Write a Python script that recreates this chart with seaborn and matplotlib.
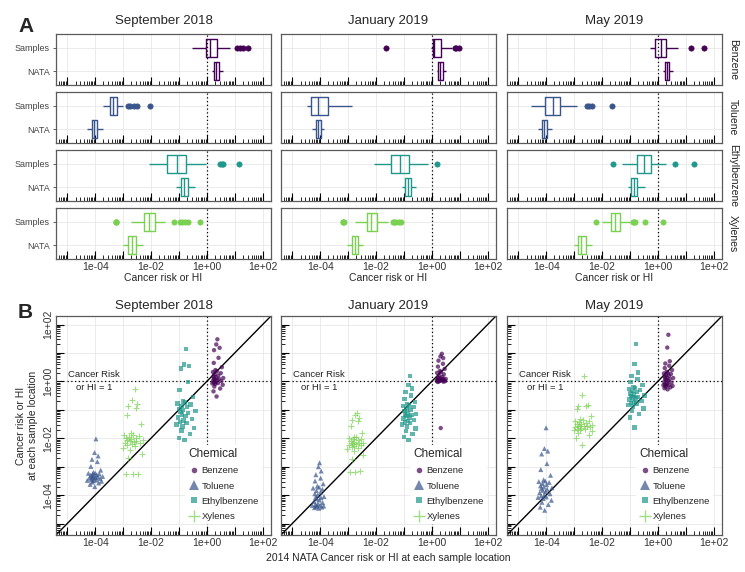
import numpy as np
import pandas as pd
import matplotlib
matplotlib.use("Agg")
import matplotlib.pyplot as plt
from matplotlib import ticker
from matplotlib.lines import Line2D
import seaborn as sns

# values are log10(cancer risk or HI)
# *_SAMPLES = measured at each sample location, *_NATA = 2014 NATA estimate at same location
SEP_BENZENE_SAMPLES = [-0.53, -0.35, -0.25, -0.18, -0.12, -0.09, -0.07, -0.06, -0.04, -0.02, 0.01, 0.03, 0.05, 0.07, 0.09, 0.10,
                       0.12, 0.15, 0.18, 0.21, 0.25, 0.29, 0.33, 0.36, 0.40, 0.50, 0.65, 0.83, 1.10, 1.18, 1.30, 1.48]
SEP_BENZENE_NATA = [0.35, 0.24, 0.48, 0.27, 0.57, 0.30, 0.20, 0.40, 0.25, 0.33, 0.52, 0.23, 0.37, 0.29, 0.44, 0.25,
                    0.59, 0.32, 0.24, 0.41, 0.28, 0.50, 0.22, 0.36, 0.31, 0.54, 0.25, 0.42, 0.26, 0.46, 0.34, 0.38]
SEP_TOLUENE_SAMPLES = [-3.70, -3.62, -3.57, -3.54, -3.51, -3.49, -3.48, -3.47, -3.45, -3.43, -3.41, -3.40, -3.38, -3.37, -3.36, -3.35,
                       -3.34, -3.32, -3.30, -3.28, -3.26, -3.25, -3.23, -3.22, -3.20, -3.12, -2.99, -2.82, -2.74, -2.62, -2.50, -2.02]
SEP_TOLUENE_NATA = [-4.01, -4.18, -3.87, -4.10, -3.77, -4.07, -4.28, -3.95, -4.13, -4.04, -3.82, -4.20, -3.98, -4.08, -3.91, -4.12,
                    -3.73, -4.05, -4.16, -3.94, -4.09, -3.85, -4.24, -4.00, -4.06, -3.80, -4.15, -3.92, -4.11, -3.89, -4.02, -3.97]
SEP_ETHYL_SAMPLES = [-2.06, -1.98, -1.85, -1.72, -1.64, -1.58, -1.52, -1.47, -1.43, -1.38, -1.32, -1.27, -1.21, -1.16, -1.11, -1.07,
                     -1.05, -1.00, -0.96, -0.91, -0.86, -0.81, -0.77, -0.74, -0.70, -0.55, -0.30, -0.02, 0.46, 0.54, 0.59, 1.15]
SEP_ETHYL_NATA = [-0.80, -1.00, -0.61, -0.91, -0.46, -0.87, -1.09, -0.72, -0.95, -0.84, -0.54, -1.02, -0.76, -0.88, -0.67, -0.94,
                  -0.41, -0.85, -0.98, -0.70, -0.90, -0.58, -1.05, -0.78, -0.86, -0.50, -0.97, -0.68, -0.93, -0.64, -0.82, -0.74]
SEP_XYLENES_SAMPLES = [-3.26, -3.25, -3.24, -2.71, -2.55, -2.42, -2.33, -2.28, -2.24, -2.21, -2.18, -2.15, -2.12, -2.10, -2.08, -2.07,
                       -2.05, -2.03, -2.00, -1.98, -1.95, -1.92, -1.89, -1.87, -1.80, -1.51, -1.19, -0.95, -0.88, -0.78, -0.66, -0.25]
SEP_XYLENES_NATA = [-2.65, -2.90, -2.46, -2.81, -2.32, -2.74, -3.00, -2.56, -2.85, -2.69, -2.40, -2.92, -2.60, -2.76, -2.52, -2.84,
                    -2.29, -2.70, -2.88, -2.55, -2.78, -2.43, -2.96, -2.63, -2.72, -2.36, -2.86, -2.53, -2.83, -2.49, -2.67, -2.58]

JAN_BENZENE_SAMPLES = [-1.64, -0.02, -0.01, 0.00, 0.01, 0.02, 0.02, 0.03, 0.04, 0.05, 0.05, 0.06, 0.07, 0.07, 0.08, 0.08,
                       0.09, 0.11, 0.13, 0.16, 0.20, 0.25, 0.30, 0.33, 0.37, 0.44, 0.52, 0.62, 0.73, 0.82, 0.88, 0.97]
JAN_BENZENE_NATA = [0.32, 0.21, 0.42, 0.25, 0.48, 0.28, 0.18, 0.37, 0.23, 0.30, 0.44, 0.20, 0.35, 0.27, 0.40, 0.24,
                    0.50, 0.30, 0.22, 0.38, 0.26, 0.43, 0.19, 0.33, 0.29, 0.46, 0.22, 0.40, 0.24, 0.41, 0.31, 0.36]
JAN_TOLUENE_SAMPLES = [-4.46, -4.44, -4.42, -4.40, -4.38, -4.37, -4.36, -4.35, -4.33, -4.30, -4.26, -4.22, -4.17, -4.13, -4.09, -4.07,
                       -4.05, -4.00, -3.95, -3.90, -3.84, -3.79, -3.75, -3.72, -3.68, -3.60, -3.50, -3.40, -3.28, -3.15, -3.00, -2.86]
JAN_TOLUENE_NATA = [-4.05, -4.20, -3.94, -4.14, -3.87, -4.11, -4.28, -4.00, -4.17, -4.08, -3.91, -4.22, -4.03, -4.12, -3.97, -4.16,
                    -3.86, -4.09, -4.19, -3.99, -4.13, -3.92, -4.25, -4.04, -4.10, -3.89, -4.18, -3.98, -4.15, -3.96, -4.06, -4.02]
JAN_ETHYL_SAMPLES = [-2.06, -1.95, -1.85, -1.75, -1.65, -1.58, -1.52, -1.47, -1.44, -1.40, -1.35, -1.31, -1.27, -1.22, -1.18, -1.16,
                     -1.14, -1.10, -1.05, -1.00, -0.95, -0.90, -0.86, -0.84, -0.80, -0.72, -0.62, -0.50, -0.38, -0.25, -0.13, 0.19]
JAN_ETHYL_NATA = [-0.83, -0.99, -0.69, -0.93, -0.58, -0.89, -1.06, -0.77, -0.96, -0.86, -0.64, -1.01, -0.80, -0.90, -0.73, -0.95,
                  -0.56, -0.87, -0.98, -0.76, -0.91, -0.66, -1.03, -0.82, -0.88, -0.61, -0.97, -0.74, -0.94, -0.71, -0.84, -0.79]
JAN_XYLENES_SAMPLES = [-3.18, -3.17, -3.16, -2.74, -2.58, -2.46, -2.38, -2.33, -2.30, -2.28, -2.25, -2.23, -2.21, -2.19, -2.18, -2.17,
                       -2.16, -2.13, -2.10, -2.07, -2.04, -2.01, -1.98, -1.96, -1.94, -1.80, -1.58, -1.40, -1.34, -1.27, -1.19, -1.10]
JAN_XYLENES_NATA = [-2.74, -2.92, -2.58, -2.84, -2.47, -2.80, -3.02, -2.66, -2.87, -2.77, -2.52, -2.95, -2.70, -2.81, -2.62, -2.86,
                    -2.45, -2.78, -2.90, -2.65, -2.83, -2.55, -2.98, -2.72, -2.79, -2.50, -2.89, -2.63, -2.85, -2.60, -2.76, -2.68]

MAY_BENZENE_SAMPLES = [-0.28, -0.24, -0.21, -0.18, -0.16, -0.14, -0.13, -0.12, -0.10, -0.07, -0.04, -0.01, 0.02, 0.05, 0.08, 0.10,
                       0.12, 0.14, 0.17, 0.20, 0.23, 0.26, 0.28, 0.30, 0.34, 0.40, 0.47, 0.55, 0.63, 0.71, 1.19, 1.64]
MAY_BENZENE_NATA = [0.35, 0.24, 0.45, 0.28, 0.53, 0.31, 0.20, 0.39, 0.26, 0.33, 0.49, 0.23, 0.37, 0.30, 0.42, 0.26,
                    0.55, 0.32, 0.25, 0.40, 0.29, 0.47, 0.22, 0.36, 0.32, 0.51, 0.25, 0.41, 0.27, 0.43, 0.34, 0.38]
MAY_TOLUENE_SAMPLES = [-4.53, -4.42, -4.33, -4.25, -4.18, -4.12, -4.08, -4.06, -4.03, -3.99, -3.95, -3.91, -3.87, -3.83, -3.79, -3.76,
                       -3.74, -3.71, -3.67, -3.63, -3.59, -3.55, -3.52, -3.50, -3.46, -3.30, -3.10, -2.89, -2.55, -2.45, -2.36, -1.63]
MAY_TOLUENE_NATA = [-4.05, -4.21, -3.92, -4.15, -3.81, -4.10, -4.29, -3.99, -4.18, -4.07, -3.86, -4.23, -4.02, -4.12, -3.96, -4.17,
                    -3.79, -4.08, -4.20, -3.98, -4.13, -3.89, -4.26, -4.03, -4.09, -3.84, -4.19, -3.97, -4.16, -3.94, -4.06, -4.00]
MAY_ETHYL_SAMPLES = [-1.62, -1.27, -1.15, -1.04, -0.95, -0.88, -0.82, -0.78, -0.75, -0.72, -0.68, -0.64, -0.60, -0.57, -0.54, -0.52,
                     -0.50, -0.46, -0.42, -0.38, -0.34, -0.30, -0.26, -0.24, -0.20, -0.12, -0.03, 0.08, 0.20, 0.31, 0.62, 1.31]
MAY_ETHYL_NATA = [-0.83, -0.99, -0.67, -0.93, -0.51, -0.88, -1.05, -0.76, -0.96, -0.85, -0.59, -1.01, -0.80, -0.90, -0.72, -0.95,
                  -0.47, -0.86, -0.98, -0.75, -0.91, -0.63, -1.03, -0.81, -0.87, -0.55, -0.97, -0.73, -0.94, -0.70, -0.84, -0.78]
MAY_XYLENES_SAMPLES = [-2.23, -1.99, -1.88, -1.80, -1.75, -1.72, -1.70, -1.68, -1.66, -1.64, -1.62, -1.60, -1.58, -1.57, -1.56, -1.55,
                       -1.53, -1.51, -1.49, -1.46, -1.43, -1.40, -1.38, -1.37, -1.33, -1.20, -0.97, -0.88, -0.85, -0.83, -0.47, 0.20]
MAY_XYLENES_NATA = [-2.71, -2.93, -2.48, -2.84, -2.37, -2.78, -3.01, -2.60, -2.89, -2.75, -2.42, -2.95, -2.66, -2.80, -2.54, -2.87,
                    -2.35, -2.76, -2.91, -2.58, -2.82, -2.45, -2.98, -2.69, -2.77, -2.40, -2.90, -2.56, -2.86, -2.51, -2.73, -2.63]

MONTHS = ["September 2018", "January 2019", "May 2019"]
CHEMICALS = ["Benzene", "Toluene", "Ethylbenzene", "Xylenes"]
KINDS = ["Samples", "NATA"]

series = {
    ("September 2018", "Benzene"): (SEP_BENZENE_NATA, SEP_BENZENE_SAMPLES),
    ("September 2018", "Toluene"): (SEP_TOLUENE_NATA, SEP_TOLUENE_SAMPLES),
    ("September 2018", "Ethylbenzene"): (SEP_ETHYL_NATA, SEP_ETHYL_SAMPLES),
    ("September 2018", "Xylenes"): (SEP_XYLENES_NATA, SEP_XYLENES_SAMPLES),
    ("January 2019", "Benzene"): (JAN_BENZENE_NATA, JAN_BENZENE_SAMPLES),
    ("January 2019", "Toluene"): (JAN_TOLUENE_NATA, JAN_TOLUENE_SAMPLES),
    ("January 2019", "Ethylbenzene"): (JAN_ETHYL_NATA, JAN_ETHYL_SAMPLES),
    ("January 2019", "Xylenes"): (JAN_XYLENES_NATA, JAN_XYLENES_SAMPLES),
    ("May 2019", "Benzene"): (MAY_BENZENE_NATA, MAY_BENZENE_SAMPLES),
    ("May 2019", "Toluene"): (MAY_TOLUENE_NATA, MAY_TOLUENE_SAMPLES),
    ("May 2019", "Ethylbenzene"): (MAY_ETHYL_NATA, MAY_ETHYL_SAMPLES),
    ("May 2019", "Xylenes"): (MAY_XYLENES_NATA, MAY_XYLENES_SAMPLES),
}

frames = []
for (month, chem), (nata, samp) in series.items():
    frames.append(pd.DataFrame({"month": month, "chemical": chem,
                                "nata": 10.0 ** np.array(nata), "sample": 10.0 ** np.array(samp)}))
df = pd.concat(frames, ignore_index=True)
long_df = df.melt(id_vars=["month", "chemical"], value_vars=["sample", "nata"], var_name="kind", value_name="value")
long_df["kind"] = long_df["kind"].map({"sample": "Samples", "nata": "NATA"})

cmap = plt.get_cmap("viridis")
COLORS = dict(zip(CHEMICALS, [cmap(v) for v in [0.0, 0.8 / 3, 1.6 / 3, 0.8]]))
MARKERS = {"Benzene": "o", "Toluene": "^", "Ethylbenzene": "s", "Xylenes": "+"}
SIZES = {"Benzene": 10, "Toluene": 13, "Ethylbenzene": 10, "Xylenes": 24}

sns.set_style("white")
plt.rcParams["font.family"] = ["Liberation Sans", "DejaVu Sans"]

W, H = 745, 572
fig = plt.figure(figsize=(W / 100, H / 100), dpi=100)


def rect(left, top, w, h):
    return [left / W, 1 - (top + h) / H, w / W, h / H]


XLIM = (10 ** -5.4, 10 ** 2.3)
COL_LEFT = [56, 281, 507]
COL_W = 215
A_TOP = [34, 92, 150, 208]
A_H = 51
B_TOP, B_H = 316, 219
SPINE = "#5a5a5a"
GRID = "#ebebeb"


def dec_label(v, pos):
    e = int(round(np.log10(v)))
    return f"{v:.0e}" if e % 2 == 0 else ""


def log_ticks(axis):
    axis.set_major_locator(ticker.FixedLocator(10.0 ** np.arange(-6, 4)))
    axis.set_minor_locator(ticker.LogLocator(base=10, subs=np.arange(2, 10), numticks=60))
    axis.set_major_formatter(ticker.FuncFormatter(dec_label))
    axis.set_minor_formatter(ticker.NullFormatter())


def frame(ax):
    for s in ax.spines.values():
        s.set_color(SPINE)
        s.set_linewidth(0.9)
    ax.set_axisbelow(True)


# ---- panel A: boxplots
for j, month in enumerate(MONTHS):
    for i, chem in enumerate(CHEMICALS):
        ax = fig.add_axes(rect(COL_LEFT[j], A_TOP[i], COL_W, A_H))
        c = COLORS[chem]
        sub = long_df[(long_df["month"] == month) & (long_df["chemical"] == chem)]
        sns.boxplot(data=sub, x="value", y="kind", order=KINDS, log_scale=True, fill=False,
                    color=c, width=0.75, linewidth=1.0, showcaps=False,
                    flierprops=dict(marker="o", markersize=3.8, markerfacecolor=c,
                                    markeredgecolor=c, markeredgewidth=0.5),
                    ax=ax)
        ax.axvline(1, color="black", ls=(0, (1, 2)), lw=0.9, zorder=1)
        ax.set_xlim(XLIM)
        ax.set_ylim(1.6, -0.6)
        log_ticks(ax.xaxis)
        ax.grid(True, which="major", color=GRID, lw=0.7)
        ax.set_xlabel("")
        ax.set_ylabel("")
        frame(ax)
        ax.tick_params(axis="x", which="major", direction="in", length=6, width=0.8, color="black",
                       labelsize=7.5, pad=2, labelcolor="#333333", bottom=True, top=False,
                       labelbottom=(i == 3))
        ax.tick_params(axis="x", which="minor", direction="in", length=3, width=0.6, color="black",
                       bottom=True, top=False)
        ax.tick_params(axis="y", direction="out", length=2.5, width=0.6, color="#444444",
                       labelsize=6.5, labelcolor="#444444", left=(j == 0), labelleft=(j == 0), pad=2)
        if j == 2:
            fig.text(733 / W, 1 - (A_TOP[i] + A_H / 2) / H, chem, rotation=270,
                     ha="center", va="center", fontsize=7.5, color="#222222")
    fig.text((COL_LEFT[j] + COL_W / 2) / W, 1 - 21 / H, month, ha="center", va="center", fontsize=9.5)
    fig.text((COL_LEFT[j] + COL_W / 2) / W, 1 - 278 / H, "Cancer risk or HI", ha="center", va="center",
             fontsize=7.5)

# ---- panel B: NATA vs measured
for j, month in enumerate(MONTHS):
    ax = fig.add_axes(rect(COL_LEFT[j], B_TOP, COL_W, B_H))
    for chem in CHEMICALS:
        sub = df[(df["month"] == month) & (df["chemical"] == chem)]
        kw = dict(linewidth=0.8) if MARKERS[chem] == "+" else dict(linewidth=0, edgecolor="none")
        sns.scatterplot(data=sub, x="nata", y="sample", color=COLORS[chem], marker=MARKERS[chem],
                        s=SIZES[chem], alpha=0.7, ax=ax, legend=False, zorder=3, **kw)
    ax.set_xscale("log")
    ax.set_yscale("log")
    ax.set_xlim(XLIM)
    ax.set_ylim(XLIM)
    ax.axline((1, 1), (10, 10), color="black", lw=1.0, zorder=2)
    ax.axvline(1, color="black", ls=(0, (1, 2)), lw=0.9, zorder=1)
    ax.hlines(1, 1e-5, XLIM[1], color="black", linestyles=[(0, (1, 2))], lw=0.9, zorder=1)
    ax.text(10 ** -4.05, 1, "Cancer Risk\nor HI = 1", ha="center", va="center", fontsize=6.8,
            linespacing=1.55, color="#222222")
    log_ticks(ax.xaxis)
    log_ticks(ax.yaxis)
    ax.grid(True, which="major", color=GRID, lw=0.7)
    ax.set_xlabel("")
    ax.set_ylabel("")
    frame(ax)
    ax.tick_params(axis="both", which="major", direction="in", length=6, width=0.8, color="black",
                   labelsize=7.5, pad=2, labelcolor="#333333", bottom=True, left=True, top=False, right=False)
    ax.tick_params(axis="both", which="minor", direction="in", length=3, width=0.6, color="black",
                   bottom=True, left=True, top=False, right=False)
    ax.tick_params(axis="y", labelleft=(j == 0), labelrotation=90)
    for lab in ax.get_yticklabels():
        lab.set_va("center")
    handles = [Line2D([], [], linestyle="", marker=MARKERS[c], color=COLORS[c], alpha=0.7,
                      markersize={"Benzene": 4, "Toluene": 6.5, "Ethylbenzene": 5, "Xylenes": 8}[c],
                      markeredgewidth=1.0 if MARKERS[c] == "+" else 0)
               for c in CHEMICALS]
    leg = ax.legend(handles, CHEMICALS, title="Chemical", loc="lower left", bbox_to_anchor=(0.58, 0.03),
                    frameon=True, facecolor="white", edgecolor="none", framealpha=1, fontsize=6.8,
                    title_fontsize=8.5, handletextpad=0.2, labelspacing=0.65, borderpad=0.3,
                    handlelength=1.2, alignment="left")
    leg.set_zorder(6)
    fig.text((COL_LEFT[j] + COL_W / 2) / W, 1 - 306 / H, month, ha="center", va="center", fontsize=9.5)

fig.text((COL_LEFT[1] + COL_W / 2) / W, 1 - 558 / H, "2014 NATA Cancer risk or HI at each sample location",
         ha="center", va="center", fontsize=7.5)
fig.text(27 / W, 1 - (B_TOP + B_H / 2) / H, "Cancer risk or HI\nat each sample location", rotation=90,
         ha="center", va="center", fontsize=7.5)
fig.text(26 / W, 1 - 27 / H, "A", ha="center", va="center", fontsize=15, fontweight="bold")
fig.text(25 / W, 1 - 312 / H, "B", ha="center", va="center", fontsize=15, fontweight="bold")

fig.savefig("out.png", dpi=100)
